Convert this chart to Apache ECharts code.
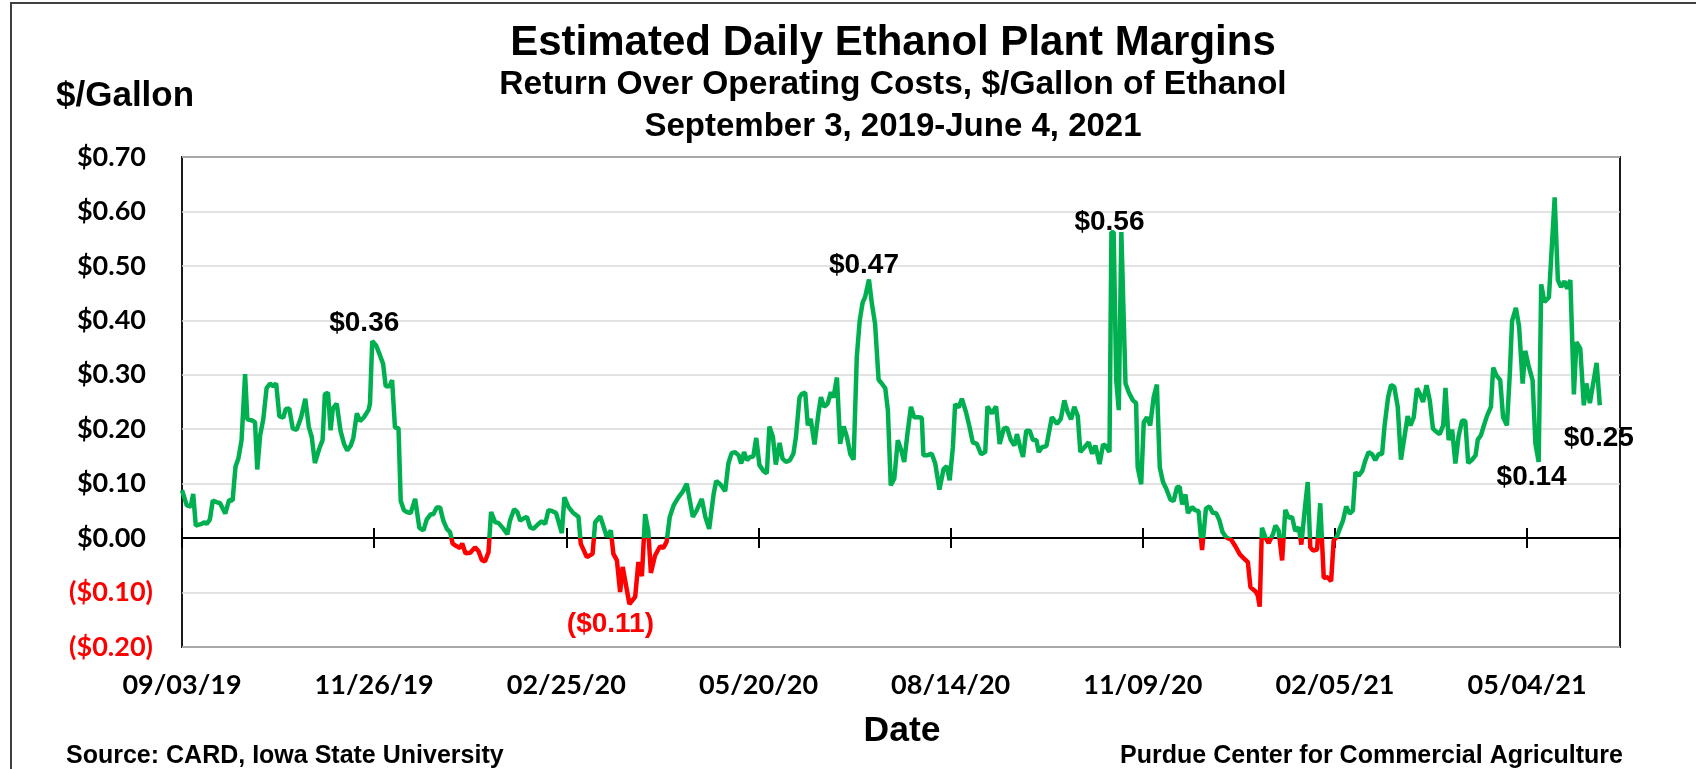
<!DOCTYPE html>
<html lang="en">

<head>
    <meta charset="UTF-8">
    <title>Estimated Daily Ethanol Plant Margins</title>
    <script src="https://cdn.jsdelivr.net/npm/echarts@6/dist/echarts.min.js"></script>
    <style>
        html, body { margin: 0; padding: 0; background: #fff; }
    </style>
</head>

<body>
    <div id="main" style="width: 1696px;height:769px;"></div>
    <script type="text/javascript">
        // x = trading day since 09/03/19, y = $/gallon
        var fall2019 = [
            [0, 0.088], [1.5, 0.06], [2.7, 0.058], [3.5, 0.081], [4.3, 0.023], [6.1, 0.026], [7, 0.029], [7.7, 0.026],
            [8.7, 0.034], [9.6, 0.069], [10.8, 0.066], [11.9, 0.064], [13.5, 0.045], [14.7, 0.07], [15.8, 0.069],
            [16.7, 0.131], [17.6, 0.146], [18.6, 0.18], [19.7, 0.301], [20.4, 0.218], [21.9, 0.216], [22.8, 0.213],
            [23.5, 0.126], [24.4, 0.189], [25.4, 0.219], [26.4, 0.275], [27.5, 0.284], [28.5, 0.279], [29.4, 0.284],
            [30.4, 0.224], [31.6, 0.221], [32.4, 0.237], [33.5, 0.238], [34.6, 0.201], [35.8, 0.199], [37.2, 0.222],
            [38.5, 0.256], [39.6, 0.204], [40.5, 0.186], [41.5, 0.138], [42.9, 0.165], [43.9, 0.18], [44.6, 0.264],
            [45.6, 0.267], [46.4, 0.198], [47.1, 0.238], [48.3, 0.247], [49.5, 0.197], [50.6, 0.173], [51.6, 0.161],
            [52.7, 0.17], [53.5, 0.184], [54.6, 0.229], [55.6, 0.215], [56.8, 0.222], [58.2, 0.235], [58.7, 0.247],
            [59.4, 0.362], [60.6, 0.354], [61.8, 0.336], [62.8, 0.32], [63.6, 0.279], [64.8, 0.279], [65.6, 0.29],
            [66.5, 0.203], [67.6, 0.202], [68.3, 0.068], [69.3, 0.051], [70.2, 0.048], [71.4, 0.046], [72.8, 0.072],
            [74.1, 0.019], [75.4, 0.014], [76.4, 0.034], [77.7, 0.044], [78.5, 0.044], [79.5, 0.056], [80.6, 0.056],
            [81.6, 0.032], [82.7, 0.017], [83.7, 0.011]
        ];
        var spring2020 = [
            [84.5, -0.01], [85.8, -0.015], [86.8, -0.018], [87.5, -0.01], [88.5, -0.028], [90, -0.027], [91.5, -0.017],
            [92.6, -0.024], [93.6, -0.04], [94.6, -0.043], [95.7, -0.026], [96.5, 0.048], [97.8, 0.029], [98.8, 0.028],
            [100.4, 0.017], [101.6, 0.007], [102.4, 0.032], [103.7, 0.053], [104.7, 0.048], [105.6, 0.032],
            [106.6, 0.036], [107.7, 0.039], [108.7, 0.02], [109.7, 0.017], [111.1, 0.025], [112.3, 0.031],
            [113.4, 0.026], [114.4, 0.051], [115.5, 0.05], [116.8, 0.046], [118.6, 0.009], [119.4, 0.075],
            [120.7, 0.057], [122.2, 0.046], [123.8, 0.039], [124.5, -0.01], [126.4, -0.035], [128.2, -0.029],
            [129, 0.029], [130.6, 0.04], [132.6, 0.003], [133.9, 0.014], [134.7, -0.029], [135.8, -0.041],
            [136.8, -0.099], [137.6, -0.053], [139.7, -0.121], [141.5, -0.108], [142.5, -0.044], [143.6, -0.07],
            [144.6, 0.044], [145.6, 0.013], [146.4, -0.064], [147.7, -0.032], [149.3, -0.015], [150.3, -0.018],
            [151.3, -0.007], [152.3, 0.039], [153.5, 0.06], [155, 0.075], [156.4, 0.086], [157.6, 0.1],
            [159.5, 0.039], [160.7, 0.051], [162.3, 0.072], [163.4, 0.039], [164.6, 0.017], [166, 0.081],
            [166.8, 0.105], [168.2, 0.098], [169.6, 0.086], [170.6, 0.137], [171.6, 0.156], [172.7, 0.158],
            [173.8, 0.152], [174.6, 0.137], [175.5, 0.158], [176.4, 0.143], [177.4, 0.149], [178.4, 0.15],
            [179.3, 0.184], [180.3, 0.134], [181.6, 0.123], [182.6, 0.119], [183.4, 0.205], [184.5, 0.186],
            [185.4, 0.135], [186.6, 0.175], [187.5, 0.146], [188.6, 0.14], [189.8, 0.143], [190.9, 0.155],
            [191.7, 0.186], [192.8, 0.258], [193.5, 0.265], [194.6, 0.267], [195.4, 0.207], [196.3, 0.219],
            [197.5, 0.172], [198.7, 0.229], [199.5, 0.259], [200.5, 0.241], [201.6, 0.247], [202.6, 0.268],
            [203.4, 0.258], [204.5, 0.295], [205.5, 0.173], [206.6, 0.205], [207.6, 0.186], [208.7, 0.154],
            [209.7, 0.144]
        ];
        var summer2020 = [
            [210.7, 0.333], [211.6, 0.399], [212.5, 0.432], [213.3, 0.443], [214.5, 0.475], [215.4, 0.431],
            [216.4, 0.394], [217.5, 0.291], [218.5, 0.284], [219.6, 0.275], [220.4, 0.235], [221.3, 0.097],
            [222.4, 0.109], [223.5, 0.18], [224.6, 0.161], [225.5, 0.14], [226.5, 0.191], [227.6, 0.241],
            [228.6, 0.222], [229.9, 0.222], [231, 0.221], [231.5, 0.152], [232.6, 0.152], [234.1, 0.155],
            [235.2, 0.137], [236.5, 0.089], [237.8, 0.127], [238.8, 0.132], [239.7, 0.106], [240.7, 0.167],
            [241.4, 0.246], [242.5, 0.24], [243.5, 0.256], [244.9, 0.229], [245.9, 0.204], [246.9, 0.176],
            [248.2, 0.173], [249.5, 0.154], [250.8, 0.158], [251.5, 0.242], [252.9, 0.229], [254.2, 0.242],
            [255.3, 0.173], [256.6, 0.201], [257.6, 0.203], [258.8, 0.18], [259.9, 0.17], [260.7, 0.191],
            [261.6, 0.17], [262.6, 0.149], [263.6, 0.197], [264.7, 0.197], [265.7, 0.18], [266.8, 0.18],
            [267.5, 0.158], [268.5, 0.167], [269.9, 0.169], [271.6, 0.222], [273.2, 0.21], [274.4, 0.219],
            [275.5, 0.253], [276.5, 0.232], [277.6, 0.218], [278.6, 0.241], [279.7, 0.224], [280.5, 0.158],
            [281.8, 0.167], [283.1, 0.176], [284.2, 0.155], [285.2, 0.17], [286.5, 0.136], [287.6, 0.172],
            [288.3, 0.17], [289.6, 0.158]
        ];
        var winter2020 = [
            [290.2, 0.562], [290.9, 0.562], [291.7, 0.29], [292.5, 0.235], [293.3, 0.562], [293.8, 0.562],
            [294.6, 0.284], [295.6, 0.268], [296.9, 0.253], [297.9, 0.248], [298.4, 0.13], [299.5, 0.099],
            [300.3, 0.213], [301.3, 0.222], [302.3, 0.207], [303.4, 0.259], [304.4, 0.282], [305.3, 0.13],
            [306.3, 0.103], [307.3, 0.091], [308.6, 0.071], [309.6, 0.068], [310.7, 0.094], [311.5, 0.094],
            [312.3, 0.062], [313.3, 0.08], [314.1, 0.046], [315.4, 0.057], [316.4, 0.051], [317.4, 0.05],
            [318.5, -0.022], [319.7, 0.054], [320.8, 0.058], [321.9, 0.046], [322.9, 0.046], [323.9, 0.033],
            [324.9, 0.011], [326.1, 0.001], [327.6, -0.003], [328.9, -0.015], [330.3, -0.03], [331.7, -0.038],
            [332.8, -0.044], [333.6, -0.09], [335.2, -0.098], [335.9, -0.105], [336.5, -0.126], [337.2, 0.019],
            [338.3, 0.001], [339.3, -0.009], [340.7, 0.008], [341.4, 0.023], [342.4, 0.014], [343.5, -0.041],
            [344.5, 0.052], [345.6, 0.037], [346.6, 0.039], [347.6, 0.013], [348.7, 0.02], [349.5, -0.012],
            [350.6, 0.054], [351.5, 0.103], [352.3, -0.017], [353.2, -0.023], [354.4, -0.021], [355.4, 0.064],
            [356.5, -0.073], [357.7, -0.072], [358.8, -0.079], [359.6, -0.004], [360.6, 0.002]
        ];
        var spring2021 = [
            [361.5, 0.017], [362.5, 0.032], [363.5, 0.058], [364.6, 0.045], [365.6, 0.051], [366.4, 0.121],
            [367.4, 0.115], [368.5, 0.123], [369.5, 0.143], [370.5, 0.158], [371.6, 0.154], [372.6, 0.143],
            [373.7, 0.155], [374.7, 0.154], [375.5, 0.207], [376.6, 0.259], [377.5, 0.281], [378.5, 0.278],
            [379.6, 0.241], [380.6, 0.144], [381.7, 0.186], [382.7, 0.224], [383.6, 0.207], [384.6, 0.222],
            [385.6, 0.275], [386.5, 0.265], [387.5, 0.25], [388.6, 0.281], [389.6, 0.253], [390.6, 0.201],
            [391.7, 0.195], [392.7, 0.191], [393.8, 0.207], [394.5, 0.276], [395.5, 0.18], [396.6, 0.199],
            [397.6, 0.137], [398.6, 0.187], [399.7, 0.216], [400.7, 0.215], [401.6, 0.138], [402.8, 0.144],
            [403.9, 0.152], [404.6, 0.181], [405.6, 0.189], [406.4, 0.205], [407.5, 0.225], [408.7, 0.241],
            [409.4, 0.313], [410.4, 0.299], [411.6, 0.29], [412.5, 0.222], [413.7, 0.207], [414.6, 0.302],
            [415.3, 0.399], [416.5, 0.423], [417.5, 0.388], [418.6, 0.284], [419.4, 0.344], [420.4, 0.318],
            [421.7, 0.29], [422.6, 0.173], [423.6, 0.14], [424.4, 0.466], [425.4, 0.434], [426.8, 0.442],
            [428.6, 0.626], [429.6, 0.474], [430.6, 0.461], [431.7, 0.472], [432.5, 0.458], [433.5, 0.474],
            [434.6, 0.264], [435.4, 0.36], [436.6, 0.348], [437.7, 0.244], [438.5, 0.284], [439.6, 0.248],
            [441.7, 0.322], [442.7, 0.244]
        ];

        // date labels, one every 60 trading days
        var dateLabels = ['09/03/19', '11/26/19', '02/25/20', '05/20/20', '08/14/20', '11/09/20', '02/05/21', '05/04/21'];

        // called-out values [trading day, value, text]
        var callouts = [
            [59.4, 0.362, '$0.36'],
            [214.5, 0.475, '$0.47'],
            [290.2, 0.562, '$0.56'],
            [139.7, -0.121, '($0.11)'],
            [423.6, 0.14, '$0.14'],
            [442.7, 0.244, '$0.25']
        ];
        var calloutOffsets = [[-8, -18], [-5, -14], [-2, -10], [-19, 20], [-7, 15], [-1, 33]];

        var margins = fall2019.concat(spring2020, summer2020, winter2020, spring2021);

        var GREEN = '#00B050';
        var RED = '#FF0000';
        var calibri = 'Lato';
        var arial = '"Liberation Sans", Arial, sans-serif';

        // accounting style: positives keep room for the ")" like Excel's _)
        function money(v) {
            var s = '$' + Math.abs(v).toFixed(2);
            return v < -1e-9 ? '{neg|(' + s + ')}' : '{pos|' + s + '}';
        }

        var myChart = echarts.init(document.getElementById('main'));

        // zero line: two axes, one tick half points up, the other down
        function zeroAxis(pos, yIndex) {
            return {
                type: 'value', min: 0, max: 449, interval: 60, position: pos,
                axisLine: { onZero: true, onZeroAxisIndex: yIndex, lineStyle: { color: '#000', width: 2 } },
                axisTick: { show: true, length: 10, lineStyle: { color: '#000', width: 2 } },
                axisLabel: { show: false },
                splitLine: { show: false }
            };
        }

        var tickFont = { fontFamily: calibri, fontWeight: 'bold', fontSize: 27 };

        var option = {
            animation: false,
            backgroundColor: '#fff',
            grid: {
                left: 182, right: 76, top: 157, bottom: 122,
                show: true, borderColor: '#1a1a1a', borderWidth: 2,
                outerBoundsMode: 'none'
            },
            xAxis: [
                {
                    // labels sit at the bottom of the plot
                    type: 'value', min: 0, max: 449, interval: 60, position: 'bottom',
                    axisLine: { show: false, onZero: false },
                    axisTick: { show: false },
                    splitLine: { show: false },
                    axisLabel: Object.assign({
                        margin: 25, color: '#000',
                        formatter: function (v) {
                            return v % 60 === 0 ? (dateLabels[v / 60] || '') : '';
                        }
                    }, tickFont)
                },
                zeroAxis('top', 0),
                zeroAxis('bottom', 1)
            ],
            yAxis: [
                {
                    type: 'value', min: -0.2, max: 0.7, interval: 0.1,
                    axisLine: { show: false },
                    axisTick: { show: false },
                    splitLine: { lineStyle: { color: '#d9d9d9', width: 1.5 } },
                    axisLabel: {
                        margin: 29,
                        formatter: money,
                        rich: {
                            pos: Object.assign({ color: '#000', padding: [0, 7, 0, 0] }, tickFont),
                            neg: Object.assign({ color: RED }, tickFont)
                        }
                    }
                },
                {
                    // hidden twin, only carries the second zero axis
                    type: 'value', min: -0.2, max: 0.7, interval: 0.1, position: 'right',
                    axisLine: { show: false }, axisTick: { show: false },
                    axisLabel: { show: false }, splitLine: { show: false }
                }
            ],
            visualMap: {
                type: 'piecewise', show: false, dimension: 1, seriesIndex: 0,
                pieces: [
                    { gte: -1, lt: 0, color: RED },
                    { gte: 0, lte: 1, color: GREEN }
                ]
            },
            series: [{
                type: 'line',
                data: margins,
                showSymbol: false,
                lineStyle: { width: 4.5 },
                markPoint: {
                    symbol: 'circle', symbolSize: 0,
                    itemStyle: { color: 'transparent' },
                    data: callouts.map(function (c, i) {
                        return {
                            coord: [c[0], c[1]],
                            label: {
                                show: true, position: 'inside', offset: calloutOffsets[i],
                                formatter: c[2],
                                fontFamily: arial, fontWeight: 'bold', fontSize: 28,
                                color: c[1] < 0 ? RED : '#000'
                            }
                        };
                    })
                }
            }],
            graphic: [
                {
                    type: 'rect', silent: true, z: -10,
                    shape: { x: 11, y: 3, width: 1800, height: 900 },
                    style: { fill: null, stroke: '#404040', lineWidth: 2 }
                },
                {
                    type: 'text', x: 893, y: 43,
                    style: { text: 'Estimated Daily Ethanol Plant Margins', font: 'bold 42px ' + arial, fill: '#000', align: 'center', verticalAlign: 'middle' }
                },
                {
                    type: 'text', x: 893, y: 85,
                    style: { text: 'Return Over Operating Costs, $/Gallon of Ethanol', font: 'bold 33.5px ' + arial, fill: '#000', align: 'center', verticalAlign: 'middle' }
                },
                {
                    type: 'text', x: 893, y: 127,
                    style: { text: 'September 3, 2019-June 4, 2021', font: 'bold 33px ' + arial, fill: '#000', align: 'center', verticalAlign: 'middle' }
                },
                {
                    type: 'text', x: 56, y: 96,
                    style: { text: '$/Gallon', font: 'bold 35px ' + arial, fill: '#000', align: 'left', verticalAlign: 'middle' }
                },
                {
                    type: 'text', x: 902, y: 731,
                    style: { text: 'Date', font: 'bold 35.5px ' + arial, fill: '#000', align: 'center', verticalAlign: 'middle' }
                },
                {
                    type: 'text', x: 66, y: 756,
                    style: { text: 'Source: CARD, Iowa State University', font: 'bold 25px ' + arial, fill: '#000', align: 'left', verticalAlign: 'middle' }
                },
                {
                    type: 'text', x: 1623, y: 756,
                    style: { text: 'Purdue Center for Commercial Agriculture', font: 'bold 25px ' + arial, fill: '#000', align: 'right', verticalAlign: 'middle' }
                }
            ]
        };

        myChart.setOption(option);
    </script>
</body>

</html>
